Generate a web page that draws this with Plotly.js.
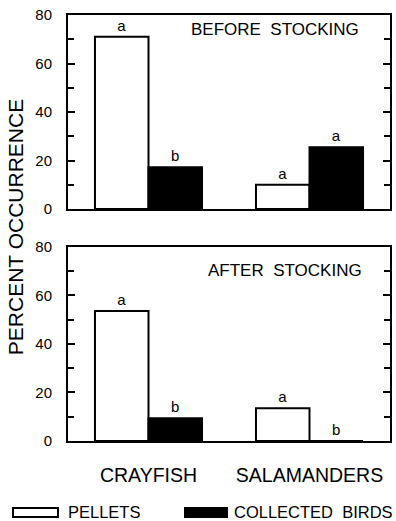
<!DOCTYPE html>
<html>
<head>
<meta charset="utf-8">
<script src="https://cdn.plot.ly/plotly-3.0.1.min.js"></script>
<style>html,body{margin:0;padding:0;background:#fff;}#chart{width:396px;height:521px;}</style>
</head>
<body>
<div id="chart"></div>
<script>
const categories = ['CRAYFISH', 'SALAMANDERS'];
const beforePellets = [71, 10];
const beforeBirds = [17.2, 25.5];
const afterPellets = [53.5, 13.5];
const afterBirds = [9.4, 0];
const beforePelletLetters = ['a', 'a'];
const beforeBirdLetters = ['b', 'a'];
const afterPelletLetters = ['a', 'a'];
const afterBirdLetters = ['b', 'b'];
const seriesNames = ['PELLETS', 'COLLECTED  BIRDS'];
const panelLabels = ['BEFORE  STOCKING', 'AFTER  STOCKING'];
const yTicks = [0, 20, 40, 60, 80];

const FONT = 'Arial, "Liberation Sans", Helvetica, sans-serif';
const letterFont = {family: FONT, size: 15, color: '#000'};

function bar(y, text, fill, xa, ya, name) {
  return {
    type: 'bar', x: categories, y: y, text: text, name: name,
    textposition: 'outside', textfont: letterFont, cliponaxis: false,
    marker: {color: fill, line: {color: '#000', width: 2}},
    xaxis: xa, yaxis: ya, showlegend: false, hoverinfo: 'skip'
  };
}

const data = [
  bar(beforePellets, beforePelletLetters, '#fff', 'x', 'y', seriesNames[0]),
  bar(beforeBirds, beforeBirdLetters, '#000', 'x', 'y', seriesNames[1]),
  bar(afterPellets, afterPelletLetters, '#fff', 'x2', 'y2', seriesNames[0]),
  bar(afterBirds, afterBirdLetters, '#000', 'x2', 'y2', seriesNames[1])
];

function yax(domain, anchor) {
  return {
    domain: domain, anchor: anchor, range: [0, 80], tickvals: yTicks,
    ticks: 'inside', ticklen: 7, tickwidth: 2, tickcolor: '#000',
    minor: {dtick: 10, ticks: 'inside', ticklen: 6, tickwidth: 2, tickcolor: '#000'},
    showline: true, linecolor: '#000', linewidth: 2, mirror: 'ticks',
    showgrid: false, zeroline: false, ticklabelstandoff: 11,
    tickfont: {family: FONT, size: 15, color: '#000'}, fixedrange: true
  };
}
function xax(anchor, showLabels) {
  return {
    anchor: anchor, domain: [0, 1], type: 'category', range: [-0.5, 1.5],
    showline: true, linecolor: '#000', linewidth: 2, mirror: true,
    ticks: '', showgrid: false, zeroline: false, showticklabels: showLabels,
    ticklabelstandoff: 16,
    tickfont: {family: FONT, size: 19.5, color: '#000'}, fixedrange: true
  };
}

const layout = {
  width: 396, height: 521,
  margin: {l: 68, r: 6, t: 15, b: 80, pad: 0},
  paper_bgcolor: '#fff', plot_bgcolor: '#fff',
  barmode: 'group', bargap: 0.335, bargroupgap: 0,
  font: {family: FONT, color: '#000'},
  xaxis: xax('y', false),
  yaxis: yax([0.5446, 1], 'x'),
  xaxis2: xax('y2', true),
  yaxis2: yax([0, 0.456], 'x2'),
  showlegend: false,
  annotations: [
    {xref: 'paper', yref: 'paper', x: -0.1646, y: 0.502, text: 'PERCENT OCCURRENCE',
     textangle: -90, showarrow: false, xanchor: 'center', yanchor: 'middle',
     font: {family: FONT, size: 21, color: '#000'}},
    {xref: 'paper', yref: 'paper', x: 0.643, y: 0.9648, text: panelLabels[0],
     showarrow: false, xanchor: 'center', yanchor: 'middle',
     font: {family: FONT, size: 17, color: '#000'}},
    {xref: 'paper', yref: 'paper', x: 0.674, y: 0.401, text: panelLabels[1],
     showarrow: false, xanchor: 'center', yanchor: 'middle',
     font: {family: FONT, size: 17, color: '#000'}},
    {xref: 'paper', yref: 'paper', x: -0.0062, y: -0.1667, text: seriesNames[0],
     showarrow: false, xanchor: 'left', yanchor: 'middle',
     font: {family: FONT, size: 16.5, color: '#000'}},
    {xref: 'paper', yref: 'paper', x: 0.5093, y: -0.1667, text: seriesNames[1],
     showarrow: false, xanchor: 'left', yanchor: 'middle',
     font: {family: FONT, size: 16.5, color: '#000'}}
  ],
  shapes: [
    {type: 'rect', xref: 'paper', yref: 'paper', x0: -0.1708, x1: -0.0311, y0: -0.1573, y1: -0.1784,
     line: {color: '#000', width: 2}, fillcolor: '#fff'},
    {type: 'rect', xref: 'paper', yref: 'paper', x0: 0.3634, x1: 0.4938, y0: -0.1573, y1: -0.1784,
     line: {color: '#000', width: 2}, fillcolor: '#000'}
  ]
};

Plotly.newPlot('chart', data, layout, {staticPlot: true, displayModeBar: false});
</script>
</body>
</html>
